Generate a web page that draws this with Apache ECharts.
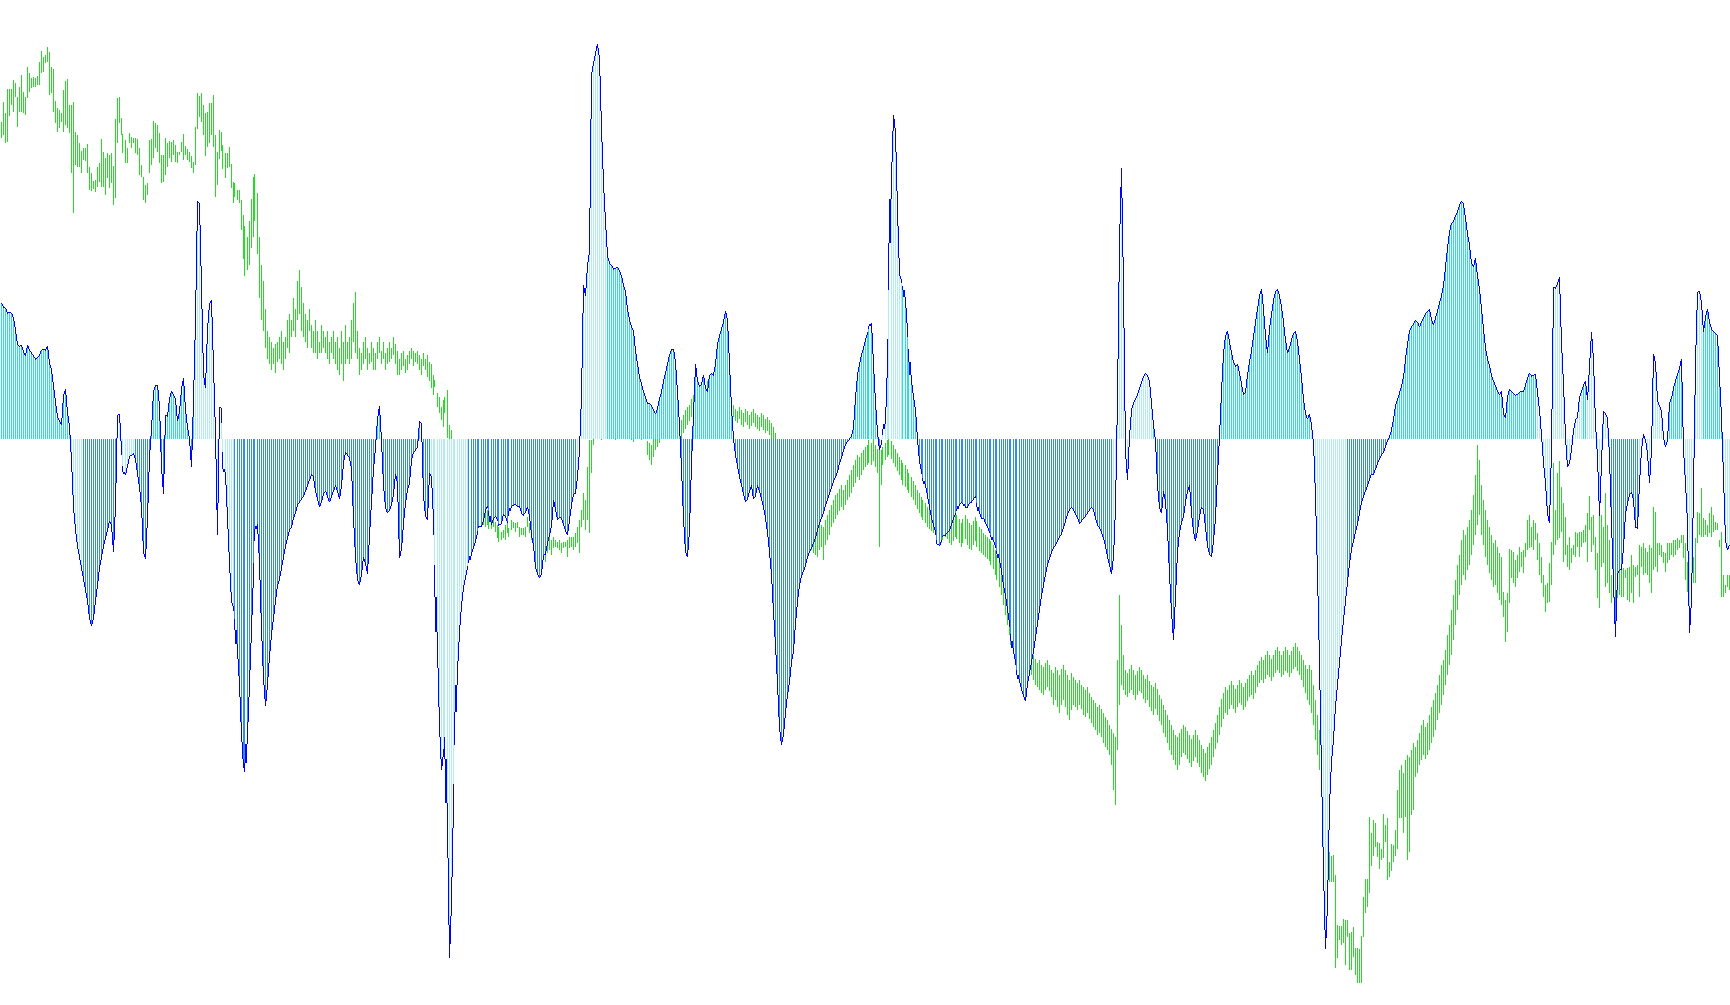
<!DOCTYPE html>
<html><head><meta charset="utf-8">
<script src="https://cdn.jsdelivr.net/npm/echarts@6/dist/echarts.min.js"></script>
<style>html,body{margin:0;padding:0;background:#fff;}#c{width:1730px;height:1005px;}</style>
</head><body><div id="c"></div>
<script>
// Oscillator values (histogram + line), one per bar
const osc = [
123,120,119,114,115,114,110,99,86,84,
85,79,75,85,81,78,75,73,74,76,
81,82,81,84,69,63,48,34,20,16,
13,40,45,24,12,-19,-62,-82,-97,-107,
-117,-127,-137,-147,-162,-169,-162,-147,-132,-117,
-107,-97,-90,-82,-74,-78,-102,-60,22,23,
-10,-29,-33,-24,-15,-14,-13,-19,-31,-43,
-62,-102,-109,-72,-16,9,43,49,49,30,
-25,-50,22,21,36,44,40,36,16,25,
45,55,26,11,0,-25,35,108,216,213,
138,58,46,100,122,126,66,5,-87,29,
28,-25,-32,-72,-112,-147,-152,-167,-192,-222,
-267,-297,-302,-267,-222,-172,-122,-82,-77,-112,
-172,-217,-242,-222,-197,-177,-162,-147,-132,-127,
-117,-107,-97,-90,-82,-80,-72,-67,-60,-57,
-54,-52,-47,-42,-37,-32,-34,-47,-54,-62,
-57,-50,-47,-52,-57,-52,-47,-42,-47,-54,
-42,-22,-12,-14,-17,-27,-72,-107,-127,-132,
-122,-107,-112,-122,-87,-57,-27,-7,18,30,
-2,-42,-62,-67,-64,-60,-50,-32,-40,-108,
-100,-76,-58,-46,-40,-19,-12,-10,-7,16,
14,-52,-70,-73,-31,-34,-73,-128,-190,-260,
-300,-285,-270,-350,-470,-420,-330,-260,-210,-175,
-150,-135,-125,-116,-111,-104,-98,-92,-85,-79,
-79,-73,-64,-61,-67,-78,-72,-70,-73,-78,
-76,-68,-70,-76,-67,-61,-60,-59,-61,-61,
-67,-69,-66,-62,-70,-87,-96,-116,-122,-126,
-122,-105,-104,-94,-87,-79,-55,-63,-73,-71,
-72,-77,-83,-87,-73,-60,-50,-49,-34,-10,
40,140,130,158,170,330,341,350,358,345,
282,232,198,166,160,158,154,155,156,152,
148,140,133,118,108,102,98,80,68,56,
50,43,38,33,33,30,26,23,28,36,
43,53,60,68,76,82,82,70,43,13,
-27,-72,-102,-107,-82,-22,23,68,53,48,
50,58,46,43,58,60,58,68,86,93,
100,106,116,108,68,28,0,-14,-24,-34,
-42,-50,-57,-54,-47,-42,-54,-52,-42,-47,
-54,-62,-72,-84,-102,-122,-157,-187,-222,-262,
-277,-267,-247,-232,-220,-202,-192,-167,-147,-132,
-124,-120,-114,-107,-102,-99,-94,-90,-82,-76,
-72,-67,-60,-54,-49,-44,-38,-34,-30,-22,
-17,-10,-5,-2,0,3,10,38,58,68,
76,83,90,96,102,105,68,33,6,-10,
-4,6,16,68,158,238,294,278,208,150,
143,138,126,98,76,53,38,26,0,-20,
-30,-37,-42,-52,-62,-72,-78,-84,-94,-97,
-92,-88,-87,-84,-82,-78,-72,-68,-64,-60,
-57,-58,-62,-62,-58,-57,-54,-52,-60,-67,
-72,-72,-76,-80,-84,-88,-92,-97,-102,-110,
-120,-132,-142,-154,-167,-179,-192,-202,-212,-219,
-227,-232,-237,-222,-212,-202,-192,-180,-167,-154,
-142,-132,-122,-114,-108,-102,-99,-96,-92,-89,
-86,-80,-74,-68,-64,-62,-64,-68,-72,-76,
-74,-72,-70,-67,-64,-62,-64,-72,-78,-81,
-84,-90,-97,-107,-114,-122,-107,-62,38,178,
246,138,-12,-37,3,26,33,36,40,46,
52,56,60,58,52,33,13,-2,-42,-62,
-67,-47,-57,-82,-122,-157,-182,-142,-102,-84,
-76,-70,-57,-47,-42,-67,-84,-92,-82,-70,
-62,-64,-80,-97,-104,-107,-92,-72,-32,3,
43,78,93,98,88,78,70,66,68,60,
50,40,43,58,70,80,93,106,118,130,
136,118,93,78,100,113,126,133,136,130,
120,106,90,78,83,90,96,98,88,73,
56,36,23,18,23,13,-4,-52,-122,-202,
-302,-392,-462,-422,-332,-292,-272,-242,-222,-202,
-182,-164,-147,-130,-112,-100,-92,-84,-77,-67,
-57,-52,-47,-42,-36,-32,-32,-27,-22,-18,
-14,-12,-6,-2,2,8,18,30,36,42,
48,56,73,86,98,102,104,108,106,102,
106,110,113,116,118,108,103,110,116,123,
130,140,156,173,188,196,198,202,206,212,
216,213,200,186,176,160,156,164,148,136,
118,100,83,73,66,58,53,48,44,40,
44,23,19,38,45,44,42,40,41,43,
44,44,49,55,60,57,58,59,43,26,
4,-22,-40,-67,-76,-10,138,137,141,147,
87,50,2,-25,-22,-10,8,17,20,38,
43,49,53,35,66,97,72,14,-16,-70,
-22,25,23,19,-16,-76,-131,-179,-122,-119,
-118,-98,-67,-58,-51,-48,-55,-80,-81,-40,
-10,5,-1,-13,-40,-10,77,69,35,30,
25,2,-7,-1,33,37,46,53,59,64,
73,-10,-40,-76,-176,-146,-46,69,133,134,
123,97,111,118,106,100,98,96,93,56,
20,-34,-92,-101,-96
];

// Price bars: high and low of each bar
const priceHigh = [
883,903,892,916,916,916,925,922,908,918,
930,913,908,938,932,927,928,927,929,943,
954,948,950,958,953,938,936,904,897,895,
892,915,924,926,900,900,903,873,870,862,
854,857,857,861,838,832,824,825,838,842,
866,853,847,852,850,852,839,886,907,908,
887,871,865,857,872,868,867,867,866,857,
840,828,820,822,865,866,884,882,880,872,
850,850,867,862,864,863,865,860,853,853,
863,871,859,856,853,849,843,878,912,909,
912,900,892,893,902,902,910,870,853,875,
873,860,852,852,858,841,823,822,815,815,
805,790,779,768,784,806,828,831,812,768,
740,724,696,674,668,663,657,661,663,668,
674,663,668,685,691,685,707,696,724,735,
718,702,691,685,696,680,674,685,674,663,
680,674,668,674,663,668,674,663,668,657,
674,663,680,663,668,685,702,713,674,657,
652,663,668,657,652,663,657,652,663,668,
654,663,652,657,663,657,668,661,654,646,
652,654,646,650,654,657,654,652,654,650,
646,652,646,650,643,641,630,625,612,608,
598,605,608,615,580,575,565,560,552,545,
540,535,528,525,520,515,512,508,505,500,
498,495,492,495,490,488,485,483,480,478,
473,475,480,485,477,485,483,482,483,478,
477,477,478,488,482,475,468,465,465,468,
465,462,458,468,468,465,468,465,463,465,
462,463,463,465,468,468,468,472,478,485,
495,512,505,538,565,565,590,595,600,593,
587,585,590,595,593,589,585,583,587,591,
595,599,595,590,587,583,580,581,585,583,
579,581,583,564,562,560,566,570,575,580,
585,585,582,588,590,586,584,590,592,588,
585,590,595,598,600,606,610,614,618,620,
616,612,618,624,628,625,620,616,612,608,
604,600,604,608,602,598,600,596,594,598,
595,592,596,594,590,593,596,592,590,588,
592,590,586,588,585,582,578,572,565,555,
545,540,535,530,525,520,515,510,505,500,
496,492,488,485,482,478,475,478,482,486,
480,478,485,490,495,500,505,510,512,516,
520,515,520,525,530,535,540,545,550,548,
552,555,558,560,565,562,566,560,556,555,
555,558,562,565,566,564,560,556,552,548,
545,542,540,536,532,528,524,520,515,512,
508,505,502,498,496,494,492,490,488,486,
484,488,492,490,486,484,488,492,490,486,
482,486,490,486,482,480,484,488,484,478,
476,472,470,468,466,464,460,455,450,445,
440,432,424,415,405,395,385,375,368,362,
358,355,350,354,358,355,350,346,342,345,
340,338,342,345,340,335,332,338,335,330,
336,340,335,330,325,332,328,325,322,325,
320,318,315,318,312,308,305,302,298,300,
296,292,288,285,280,276,272,268,345,410,
380,350,335,332,336,340,335,330,334,338,
335,330,326,330,324,320,318,322,316,310,
306,300,295,290,285,280,275,270,268,272,
276,280,278,274,270,266,270,275,270,265,
260,256,252,258,262,268,275,282,290,298,
306,312,318,315,320,324,320,316,320,325,
322,318,322,326,330,334,330,335,340,344,
348,345,350,354,350,346,350,355,358,354,
350,354,358,355,350,354,358,362,358,354,
350,345,340,336,340,335,320,305,290,275,
260,240,210,180,153,149,150,130,80,79,
79,86,85,85,72,73,78,57,57,56,
69,108,126,126,188,172,185,182,163,162,
156,191,180,187,143,161,160,175,215,235,
240,232,245,250,248,255,262,258,265,272,
280,285,278,282,290,298,305,312,320,330,
340,345,355,370,380,395,410,425,440,450,
465,475,470,478,485,495,510,530,560,545,
520,505,495,485,478,470,462,465,458,452,
448,413,405,412,456,455,453,445,450,458,
453,455,462,485,490,478,485,482,472,462,
448,430,420,422,442,463,542,495,532,544,
518,502,488,460,468,457,460,473,472,473,
473,475,480,492,509,488,490,468,452,522,
490,478,512,480,465,430,435,428,437,435,
435,437,435,437,438,450,440,438,440,460,
458,462,457,453,460,457,498,493,462,462,
460,453,452,462,462,462,465,465,467,465,
470,470,462,443,443,458,448,467,493,492,
517,487,485,480,492,498,490,483,482,465,
473,430,420,430,430
];
const priceLow = [
867,870,862,863,889,900,893,908,878,893,
893,892,890,907,913,917,918,918,920,920,
932,933,942,943,910,912,893,882,873,877,
883,873,880,877,872,832,792,840,838,838,
832,845,844,832,815,814,816,813,818,823,
818,818,810,827,817,822,800,807,862,882,
870,852,842,842,862,857,862,852,850,830,
828,805,802,810,832,840,847,857,853,842,
822,823,830,838,847,843,850,843,842,850,
853,845,850,845,843,837,832,840,876,888,
883,870,849,858,862,870,858,808,820,846,
854,836,827,837,838,817,802,808,805,802,
775,746,729,735,740,757,768,784,751,707,
685,674,657,646,641,635,641,632,643,646,
641,635,646,657,652,668,674,668,685,691,
674,668,663,657,674,657,652,652,646,652,
652,657,652,646,641,652,646,641,635,630,
641,624,641,646,641,646,663,652,646,630,
635,641,646,635,641,643,635,635,646,652,
641,646,635,641,643,646,650,641,630,630,
635,639,632,635,641,646,639,643,641,635,
630,639,635,628,624,617,610,618,598,592,
585,578,592,567,560,555,545,540,530,525,
518,515,510,505,500,495,495,490,488,485,
482,480,478,480,476,476,478,473,467,463,
465,467,465,472,468,475,477,473,477,468,
470,470,468,478,472,465,458,455,452,452,
448,445,443,452,455,450,457,458,457,455,
452,457,458,448,457,458,455,458,462,452,
478,485,475,485,472,532,560,570,575,570,
565,567,571,575,577,573,567,565,570,575,
577,580,581,575,570,565,563,567,571,568,
565,567,570,550,545,540,548,555,558,562,
566,568,566,570,574,570,566,572,575,570,
566,572,576,580,584,588,592,596,600,602,
598,596,600,604,610,608,604,600,596,592,
588,585,590,592,590,586,588,584,582,586,
580,578,583,580,576,579,582,578,576,574,
578,575,572,574,570,566,562,555,545,535,
525,520,515,510,505,500,495,490,485,480,
476,472,468,462,458,455,452,450,448,455,
458,445,460,465,470,478,482,486,490,494,
498,495,500,505,508,512,518,522,528,525,
530,535,538,540,542,540,544,538,532,458,
520,540,545,548,550,546,542,538,534,530,
525,520,518,515,512,508,505,500,496,492,
488,485,482,478,476,474,472,470,466,464,
462,465,468,466,462,460,464,468,466,462,
458,462,466,460,456,455,460,464,458,454,
452,450,448,446,444,440,436,430,425,418,
410,400,390,380,370,360,352,345,340,335,
330,330,326,328,334,330,325,320,318,315,
312,310,315,318,314,308,300,305,298,292,
300,305,298,290,285,295,300,298,295,300,
296,290,288,292,286,282,278,275,270,272,
268,262,258,255,250,240,215,200,255,300,
320,315,310,308,312,315,310,305,310,314,
312,306,302,305,298,294,290,296,290,284,
280,272,268,262,255,250,245,240,235,240,
248,252,250,246,242,238,244,248,242,238,
232,228,224,230,236,240,248,256,262,270,
278,286,292,290,296,300,296,292,298,302,
300,295,298,304,308,310,306,312,318,322,
325,322,326,330,328,324,328,332,335,332,
328,330,334,332,328,332,336,338,334,330,
325,318,312,305,300,292,280,265,250,235,
220,190,150,130,123,123,123,37,47,65,
60,62,40,68,35,35,48,30,22,22,
22,68,92,98,112,139,149,158,148,136,
145,147,163,125,128,134,143,149,156,187,
187,172,188,145,153,190,195,228,232,240,
245,250,246,250,255,262,268,275,285,292,
300,310,320,330,340,350,365,380,395,410,
420,430,425,435,440,450,460,470,480,490,
470,460,448,440,432,425,418,420,412,405,
400,388,363,373,402,427,422,418,427,433,
438,432,448,455,457,458,455,465,445,430,
422,408,393,402,403,420,450,460,465,467,
473,443,450,438,435,442,450,448,458,448,
458,462,463,443,475,453,460,435,407,397,
438,442,418,422,412,402,407,408,407,410,
408,408,427,405,403,412,402,428,430,408,
438,430,432,430,422,412,435,438,433,450,
448,442,433,442,445,450,448,450,455,457,
462,447,425,413,402,418,422,422,462,470,
468,468,470,468,472,468,473,475,475,458,
408,408,412,418,415
];

// Bar index ranges whose histogram bars are drawn in the pale colour
const paleRanges = [[35,40],[58,66],[97,116],[215,233],[288,302],[440,450],[556,575],[655,672],[768,790],[793,804],[819,833],[841,850],[861,864]];

const categories = osc.map((_, i) => String(i + 1));

const COLORS = { upper: '#1fe3e3', lower: '#2f8fe8', pale: '#b0eeee', line: '#0000ff', price: '#22dd22' };

function isPale(i) {
  for (const r of paleRanges) if (i >= r[0] && i <= r[1]) return true;
  return false;
}

const chart = echarts.init(document.getElementById('c'), null, { renderer: 'canvas' });
chart.setOption({
  animation: false,
  backgroundColor: '#ffffff',
  grid: { left: 0, right: 0, top: 0, bottom: 0 },
  xAxis: { type: 'category', data: categories, show: false, boundaryGap: true },
  yAxis: [
    { type: 'value', min: -513, max: 398, show: false },
    { type: 'value', min: 0, max: 1005, show: false }
  ],
  series: [
    {
      type: 'custom', name: 'price', yAxisIndex: 1, z: 1,
      data: priceHigh.map((h, i) => [i, priceLow[i], h]),
      renderItem: function (params, api) {
        const i = api.value(0);
        const lo = api.coord([i, api.value(1)]), hi = api.coord([i, api.value(2)]);
        const x = Math.floor(lo[0]);
        const yt = Math.round(hi[1]), yb = Math.round(lo[1]);
        return { type: 'rect', shape: { x: x, y: yt, width: 1, height: Math.max(1, yb - yt) }, style: { fill: COLORS.price } };
      }
    },
    {
      type: 'custom', name: 'histogram', yAxisIndex: 0, z: 2,
      data: osc.map((v, i) => [i, v]),
      renderItem: function (params, api) {
        const i = api.value(0), v = api.value(1);
        const a = api.coord([i, 0]), b = api.coord([i, v]);
        const x = Math.floor(a[0]);
        const y0 = Math.round(a[1]), y1 = Math.round(b[1]);
        const fill = isPale(i) ? COLORS.pale : (v >= 0 ? COLORS.upper : COLORS.lower);
        return { type: 'rect', shape: { x: x, y: Math.min(y0, y1), width: 1, height: Math.max(1, Math.abs(y1 - y0)) }, style: { fill: fill } };
      }
    },
    {
      type: 'custom', name: 'oscillator', yAxisIndex: 0, z: 3,
      data: osc.map((v, i) => [i, v, i > 0 ? osc[i - 1] : v]),
      renderItem: function (params, api) {
        const i = api.value(0);
        const cur = api.coord([i, api.value(1)]);
        const prev = api.coord([Math.max(0, i - 1), api.value(2)]);
        const xb = Math.floor(cur[0]);
        const y1 = Math.round(cur[1]);
        if (i === 0) {
          return { type: 'rect', shape: { x: xb, y: y1, width: 1, height: 1 }, style: { fill: COLORS.line } };
        }
        const xa = Math.floor(prev[0]);
        const y0 = Math.round(prev[1]);
        const q1 = Math.round(y0 + (y1 - y0) / 4), q3 = Math.round(y0 + 3 * (y1 - y0) / 4);
        function seg(x, ya, yb) {
          const t = Math.min(ya, yb), h = Math.max(1, Math.abs(yb - ya));
          return { type: 'rect', shape: { x: x, y: t, width: 1, height: h }, style: { fill: COLORS.line } };
        }
        const children = [seg(xa, y0, q1)];
        for (let x = xa + 1; x < xb; x++) children.push(seg(x, q1, q3));
        children.push(seg(xb, q3, y1));
        return { type: 'group', children: children };
      }
    }
  ]
});
</script>
</body></html>
